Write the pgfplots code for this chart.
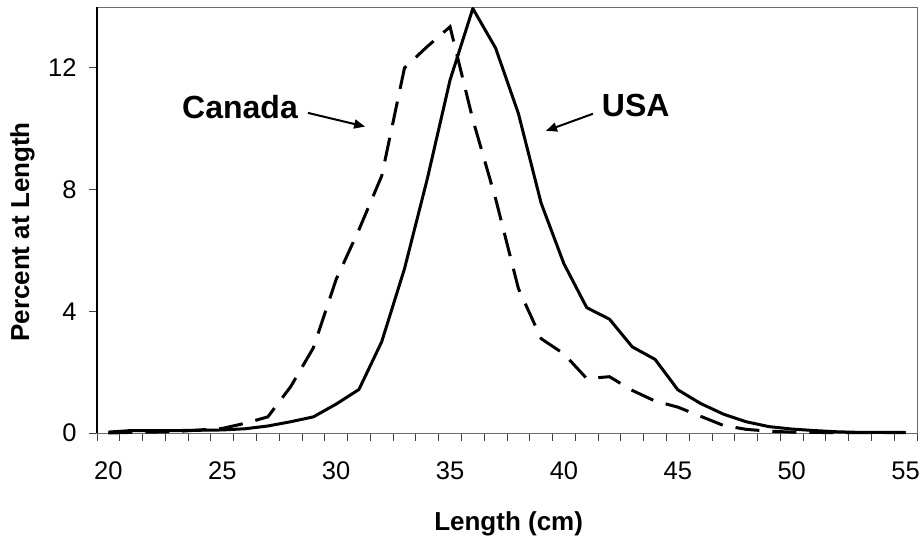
\documentclass[border=0pt]{standalone}
\usepackage{fontspec}
\setmainfont{Liberation Sans}
\usepackage{pgfplots}
\pgfplotsset{compat=1.18}
\usetikzlibrary{arrows.meta}
\pgfplotstableread{
len usa canada
20 0.03 0.00
21 0.08 0.02
22 0.08 0.03
23 0.08 0.05
24 0.09 0.10
25 0.10 0.15
26 0.14 0.32
27 0.23 0.53
28 0.37 1.52
29 0.53 2.80
30 0.95 5.05
31 1.43 6.68
32 3.00 8.45
33 5.40 12.00
34 8.35 12.70
35 11.60 13.35
36 13.95 10.30
37 12.65 7.70
38 10.50 4.75
39 7.55 3.10
40 5.56 2.60
41 4.12 1.79
42 3.74 1.85
43 2.83 1.40
44 2.42 1.05
45 1.42 0.85
46 0.97 0.55
47 0.62 0.25
48 0.37 0.12
49 0.21 0.06
50 0.13 0.03
51 0.08 0.02
52 0.04 0.01
53 0.02 0.01
54 0.02 0.01
55 0.02 0.01
}\datatable
\begin{document}
\begin{tikzpicture}
\begin{axis}[
  name=main,
  anchor=origin,
  scale only axis, width=820pt, height=426pt,
  xmin=19.5, xmax=55.5, ymin=0, ymax=14,
  axis line style={draw=gray!85!black, line width=1pt},
  tick align=outside, tick pos=left,
  xtick={20,25,...,55},
  minor xtick={19.5,20.5,...,55.5},
  ytick={0,4,8,12},
  major tick length=8pt, minor tick length=8pt,
  every major x tick/.style={draw=none},
  tick style={line width=0.8pt, draw=black!75},
  ticklabel style={font=\fontsize{25.5}{30}\selectfont},
  xticklabel style={yshift=-17pt},
  yticklabel style={xshift=-9pt},
  /pgf/number format/assume math mode=true,
  xlabel={\bfseries Length (cm)},
  ylabel={\bfseries Percent at Length},
  label style={font=\fontsize{26}{31}\selectfont},
  xlabel style={at={(axis description cs:0.502,-0.2136)}, anchor=center},
  ylabel style={at={(axis description cs:-0.0909,0.472)}, anchor=center},
  clip=false,
]
\draw[black, line width=1.2pt] (axis cs:19.5,0) -- (axis cs:19.5,14);
\addplot[black, line width=3pt, line join=round] table[x=len, y=usa] {\datatable};
\addplot[black, line width=3pt, dash pattern=on 24pt off 13pt] table[x=len, y=canada] {\datatable};
\node[font=\fontsize{32}{38}\selectfont\bfseries] at (axis cs:25.78,10.72) {Canada};
\node[font=\fontsize{32}{38}\selectfont\bfseries] at (axis cs:43.15,10.75) {USA};
\draw[black, line width=2pt, -{Triangle[length=11pt,width=9pt]}] (axis cs:28.76,10.52) -- (axis cs:31.27,10.07);
\draw[black, line width=2pt, -{Triangle[length=11pt,width=9pt]}] (axis cs:41.27,10.49) -- (axis cs:39.21,9.93);
\end{axis}
\pgfresetboundingbox
\path ([xshift=-97pt,yshift=-106pt]main.south west) rectangle ([xshift=826pt,yshift=433pt]main.south west);
\end{tikzpicture}
\end{document}
